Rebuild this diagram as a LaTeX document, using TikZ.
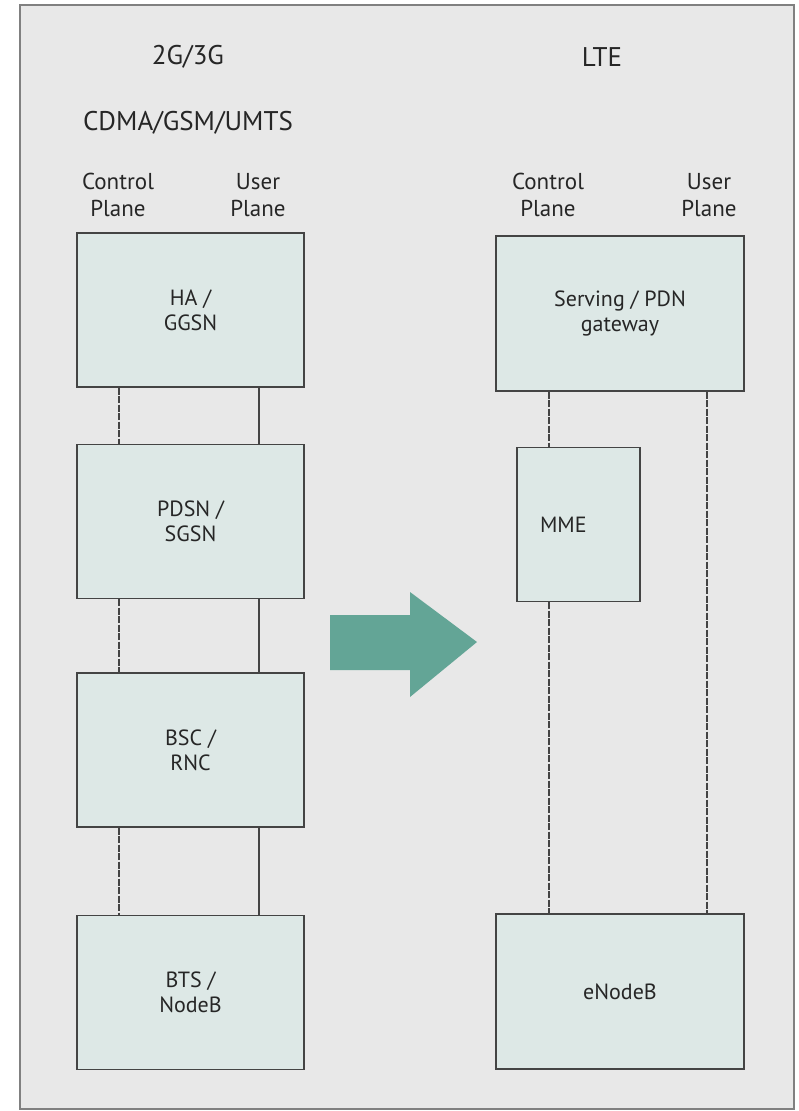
\documentclass[tikz,border=0pt]{standalone}
\usepackage{fontspec}
\setmainfont{PT Sans}
\usepackage{xcolor}
\usepackage{tikz}
\usetikzlibrary{positioning,calc}

\definecolor{panelgray}{HTML}{E8E8E8}
\definecolor{boxfill}{HTML}{DDE8E6}
\definecolor{arrowteal}{HTML}{63A596}
\definecolor{linegray}{HTML}{444444}

\begin{document}
\begin{tikzpicture}[
  x=1pt, y=-1pt,
  unit/.style={draw=linegray, line width=1.4pt, fill=boxfill, minimum width=227pt, minimum height=154pt, inner sep=0pt, align=center, text=black!85, font=\fontsize{22}{25}\selectfont},
  title/.style={font=\fontsize{27}{30}\selectfont, text=black!85},
  plane/.style={font=\fontsize{23}{27}\selectfont, align=center, text=black!85},
  ctrl/.style={draw=linegray, line width=1.2pt, dash pattern=on 7pt off 1.5pt},
  usr/.style={draw=linegray, line width=1.2pt},
]
  \useasboundingbox (0,0) rectangle (798,1111);
  % panel
  \draw[draw=gray, line width=1.5pt, fill=panelgray] (20,5) rectangle (794,1109);

  % Headings
  \node[title] (old) at (188,57) {2G/3G};
  \node[title] (oldsys) at (188,123) {CDMA/GSM/UMTS};
  \node[title] (lte) at (602,57) {LTE};
  \node[plane] (cpold) at (118,195) {Control\\Plane};
  \node[plane] (upold) at (258,195) {User\\Plane};
  \node[plane] (cplte) at (548,195) {Control\\Plane};
  \node[plane] (uplte) at (709,195) {User\\Plane};

  % 2G/3G column
  \node[unit] (ha) at (190.5,310) {HA /\\GGSN};
  \node[unit, below=56pt of ha] (pdsn) {PDSN /\\SGSN};
  \node[unit, below=73pt of pdsn] (bsc) {BSC /\\RNC};
  \node[unit, below=87pt of bsc] (bts) {BTS /\\NodeB};

  % LTE column
  \node[unit, minimum width=248pt, minimum height=155pt] (gw) at (620,313.5) {Serving / PDN\\gateway};
  \node[unit, minimum width=123pt, text width=77pt, align=left, below=55pt of gw.south west, anchor=north west, xshift=21pt] (mme) {MME};
  \node[unit, minimum width=248pt, minimum height=155pt] (enb) at (620,991.5) {eNodeB};

  % plane positions
  \coordinate (cpl) at (119,0);
  \coordinate (upl) at (259,0);
  \coordinate (cpr) at (549,0);
  \coordinate (upr) at (707,0);

  % 2G/3G links
  \foreach \a/\b in {ha/pdsn, pdsn/bsc, bsc/bts} {
    \draw[ctrl] (\a.south -| cpl) -- (\b.north -| cpl);
    \draw[usr] (\a.south -| upl) -- (\b.north -| upl);
  }

  % LTE links
  \draw[ctrl] (gw.south -| cpr) -- (mme.north -| cpr);
  \draw[ctrl] (mme.south -| cpr) -- (enb.north -| cpr);
  \draw[ctrl] (gw.south -| upr) -- (enb.north -| upr);

  % migration arrow
  \fill[arrowteal] (330,615) -- (410,615) -- (410,592) -- (477,642)
    -- (410,697) -- (410,670) -- (330,670) -- cycle;
\end{tikzpicture}
\end{document}
